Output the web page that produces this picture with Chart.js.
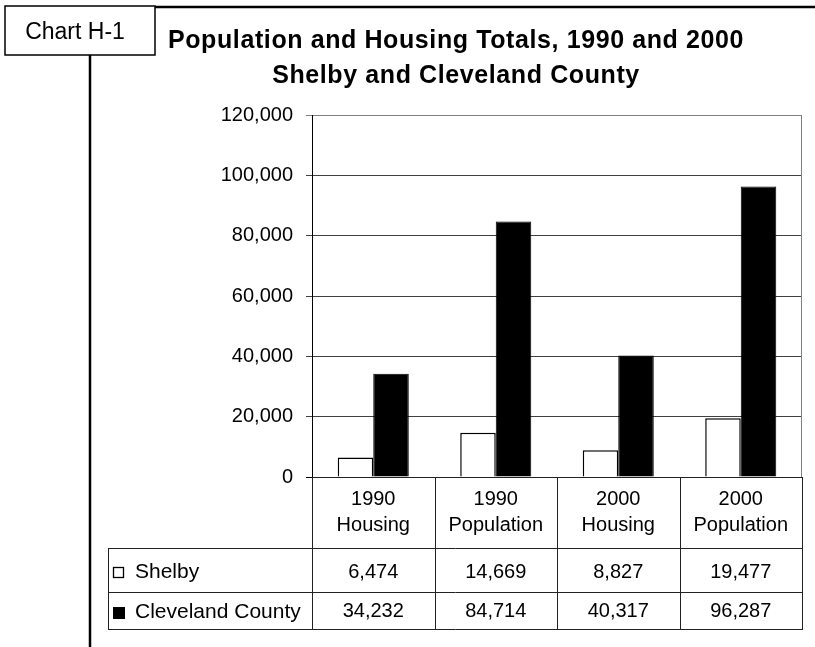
<!DOCTYPE html>
<html>
<head>
<meta charset="utf-8">
<script src="https://cdn.jsdelivr.net/npm/chart.js@4.4.1/dist/chart.umd.min.js"></script>
<style>
body { margin: 0; background: #fff; }
#wrap { width: 815px; height: 647px; }
</style>
</head>
<body>
<div id="wrap"><canvas id="grafica" width="815" height="647"></canvas></div>
<script>
const categorias = [['1990', 'Housing'], ['1990', 'Population'], ['2000', 'Housing'], ['2000', 'Population']];
const series = ['Shelby', 'Cleveland County'];
const shelby = [6474, 14669, 8827, 19477];
const cleveland = [34232, 84714, 40317, 96287];
const ticksY = [0, 20000, 40000, 60000, 80000, 100000, 120000];
const titulo = ['Population and Housing Totals, 1990 and 2000', 'Shelby and Cleveland County'];
const etiqueta = 'Chart H-1';

const fuente = 'Arial, "Liberation Sans", sans-serif';
const fmt = v => v.toLocaleString('en-US');

// marco, titulo y tabla de datos
const tablaPlugin = {
    id: 'tabla',
    afterDraw(chart) {
        const ctx = chart.ctx;
        const x = chart.scales.x;
        const area = chart.chartArea;
        const n = categorias.length;
        const paso = (area.right - area.left) / n;
        ctx.save();

        // marco
        ctx.strokeStyle = '#000';
        ctx.lineWidth = 1.5;
        ctx.strokeRect(5, 6, 150, 49);
        ctx.lineWidth = 2.5;
        ctx.beginPath();
        ctx.moveTo(155, 7); ctx.lineTo(815, 7);
        ctx.moveTo(90, 55); ctx.lineTo(90, 647);
        ctx.stroke();

        ctx.fillStyle = '#000';
        ctx.textAlign = 'center';
        ctx.textBaseline = 'alphabetic';
        ctx.font = '23px ' + fuente;
        ctx.fillText(etiqueta, 75, 39);

        ctx.font = 'bold 25px ' + fuente;
        ctx.letterSpacing = '0.6px';
        ctx.fillText(titulo[0], 456, 48);
        ctx.fillText(titulo[1], 456, 83);
        ctx.letterSpacing = '0px';

        // borde del area
        ctx.strokeStyle = '#808080';
        ctx.lineWidth = 1;
        ctx.beginPath();
        ctx.moveTo(area.right - 0.5, area.top);
        ctx.lineTo(area.right - 0.5, area.bottom);
        ctx.stroke();

        // tabla
        const izq = 108;
        const fila1 = 548, fila2 = 592, fin = 629;
        ctx.strokeStyle = '#222';
        ctx.beginPath();
        for (let i = 0; i <= n; i++) {
            const px = Math.round(area.left + paso * i) + 0.5;
            ctx.moveTo(px, area.bottom);
            ctx.lineTo(px, fin);
        }
        ctx.moveTo(izq + 0.5, fila1);
        ctx.lineTo(izq + 0.5, fin);
        [fila1, fila2, fin].forEach(y => {
            ctx.moveTo(izq, y + 0.5);
            ctx.lineTo(Math.round(area.right) + 1, y + 0.5);
        });
        ctx.moveTo(area.left, Math.round(area.bottom) + 0.5);
        ctx.lineTo(area.right, Math.round(area.bottom) + 0.5);
        ctx.stroke();

        ctx.font = '20px ' + fuente;
        ctx.textAlign = 'center';
        categorias.forEach((c, i) => {
            const cx = x.getPixelForValue(i);
            ctx.fillText(c[0], cx, 505);
            ctx.fillText(c[1], cx, 531);
            ctx.fillText(fmt(shelby[i]), cx, 578);
            ctx.fillText(fmt(cleveland[i]), cx, 617);
        });

        // leyenda
        ctx.textAlign = 'left';
        ctx.font = '21px ' + fuente;
        ctx.lineWidth = 1.3;
        ctx.strokeStyle = '#000';
        ctx.fillStyle = '#fff';
        ctx.fillRect(113, 567, 11, 11);
        ctx.strokeRect(113.5, 567.5, 10, 10);
        ctx.fillStyle = '#000';
        ctx.fillRect(113, 607, 12, 12);
        ctx.fillText(series[0], 135, 578);
        ctx.fillText(series[1], 135, 618);

        ctx.restore();
    }
};

const grafica = new Chart(document.getElementById('grafica').getContext('2d'), {
    type: 'bar',
    data: {
        labels: categorias.map(c => c.join(' ')),
        datasets: [{
            label: series[0],
            data: shelby,
            backgroundColor: '#fff',
            borderColor: '#000',
            borderWidth: 1.5
        }, {
            label: series[1],
            data: cleveland,
            backgroundColor: '#000',
            borderColor: '#000',
            borderWidth: 1
        }]
    },
    options: {
        responsive: false,
        animation: false,
        devicePixelRatio: 1,
        layout: { padding: { left: 0, right: 13, top: 115, bottom: 170 } },
        plugins: {
            legend: { display: false },
            title: { display: false },
            tooltip: { enabled: false }
        },
        datasets: {
            bar: { categoryPercentage: 0.58, barPercentage: 1 }
        },
        scales: {
            x: { display: false },
            y: {
                min: 0,
                max: 120000,
                afterFit: s => { s.width = 312; },
                afterBuildTicks: s => { s.ticks = ticksY.map(v => ({ value: v })); },
                ticks: {
                    color: '#000',
                    padding: 13,
                    font: { family: fuente, size: 20 },
                    callback: v => fmt(v)
                },
                grid: {
                    tickLength: 6,
                    color: c => c.tick && c.tick.value === 120000 ? '#808080' : (c.tick && c.tick.value === 0 ? '#000' : '#404040')
                },
                border: { color: '#000', width: 1 }
            }
        }
    },
    plugins: [tablaPlugin]
});
</script>
</body>
</html>
